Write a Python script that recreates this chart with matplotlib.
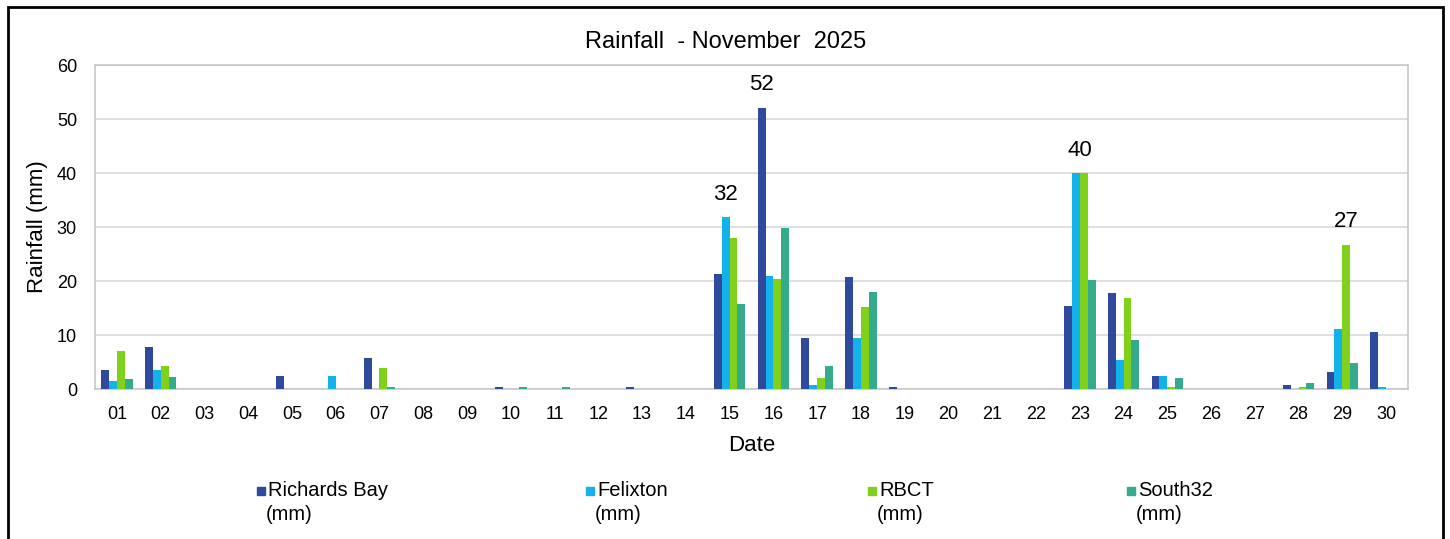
import numpy as np
import matplotlib.pyplot as plt
from matplotlib.patches import Rectangle

plt.rcParams['font.family'] = ['Liberation Sans', 'DejaVu Sans']

# ---- data (mm) ----
days = ['%02d' % d for d in range(1, 31)]
richards_bay = [3.5, 7.7, 0, 0, 2.5, 0, 5.7, 0, 0, 0.4, 0, 0, 0.4, 0, 21.3,
                52.1, 9.4, 20.7, 0.4, 0, 0, 0, 15.4, 17.8, 2.4, 0, 0, 0.7, 3.2, 10.5]
felixton = [1.5, 3.5, 0, 0, 0, 2.5, 0, 0, 0, 0, 0, 0, 0, 0, 31.8,
            21.0, 0.7, 9.4, 0, 0, 0, 0, 40.0, 5.3, 2.4, 0, 0, 0, 11.2, 0.4]
rbct = [7.0, 4.2, 0, 0, 0, 0, 3.8, 0, 0, 0, 0, 0, 0, 0, 27.9,
        20.3, 2.1, 15.1, 0, 0, 0, 0, 40.0, 16.8, 0.4, 0, 0, 0.4, 26.7, 0]
south32 = [1.8, 2.2, 0, 0, 0, 0, 0.4, 0, 0, 0.4, 0.4, 0, 0, 0, 15.7,
           29.8, 4.2, 17.9, 0, 0, 0, 0, 20.2, 9.1, 2.0, 0, 0, 1.1, 4.9, 0]
series_names = ['Richards Bay', 'Felixton', 'RBCT', 'South32']
# peak labels: (day index, series index, text)
peak_labels = [(14, 1, '32'), (15, 0, '52'), (22, 1.5, '40'), (28, 2, '27')]

colors = ['#2f4a9c', '#13b2ea', '#7fd11b', '#35ab8c']

fig = plt.figure(figsize=(14.5, 5.39), dpi=100)
ax = fig.add_axes([95 / 1450, 1 - 389 / 539, (1408 - 95) / 1450, (389 - 65) / 539])

x = np.arange(len(days))
w = 0.18
all_series = [richards_bay, felixton, rbct, south32]
for i, (vals, c) in enumerate(zip(all_series, colors)):
    ax.bar(x + (i - 1.5) * w, vals, width=w, color=c, zorder=3)

for d, s, txt in peak_labels:
    vals = all_series[int(s)]
    ax.text(d + (s - 1.5) * w, vals[d] + 2.3, txt, ha='center', va='bottom', fontsize=16)

ax.set_xlim(-0.5, len(days) - 0.5)
ax.set_ylim(0, 60)
ax.set_yticks(range(0, 61, 10))
ax.set_xticks(x)
ax.set_xticklabels(days)
ax.tick_params(axis='both', length=0, labelsize=13)
ax.tick_params(axis='y', pad=13)
ax.tick_params(axis='x', pad=12)
ax.grid(axis='y', color='#d9d9d9', linewidth=1.2, zorder=0)
for sp in ax.spines.values():
    sp.set_color('#c8c8c8')
    sp.set_linewidth(1.2)

ax.set_xlabel('Date', fontsize=16, labelpad=9)
ax.set_ylabel('Rainfall (mm)', fontsize=16, labelpad=6)
fig.text(726 / 1450, 1 - 42 / 539, 'Rainfall  - November  2025', ha='center', va='center', fontsize=17)

# legend drawn by hand, Excel-style
legend_x = [257, 586, 868, 1127]
for name, c, lx in zip(series_names, colors, legend_x):
    fig.patches.append(Rectangle((lx / 1450, 1 - 495 / 539), 8 / 1450, 8 / 539,
                                 transform=fig.transFigure, color=c))
    fig.text((lx + 11) / 1450, 1 - 490 / 539, name, va='center', fontsize=14.5)
    fig.text((lx + 9) / 1450, 1 - 514 / 539, '(mm)', va='center', fontsize=14.5)

# outer chart border
fig.patches.append(Rectangle((8 / 1450, -0.05), 1435 / 1450, 1.05 - 7 / 539,
                             transform=fig.transFigure, fill=False, edgecolor='black', linewidth=2))

fig.savefig('out.png', dpi=100)
